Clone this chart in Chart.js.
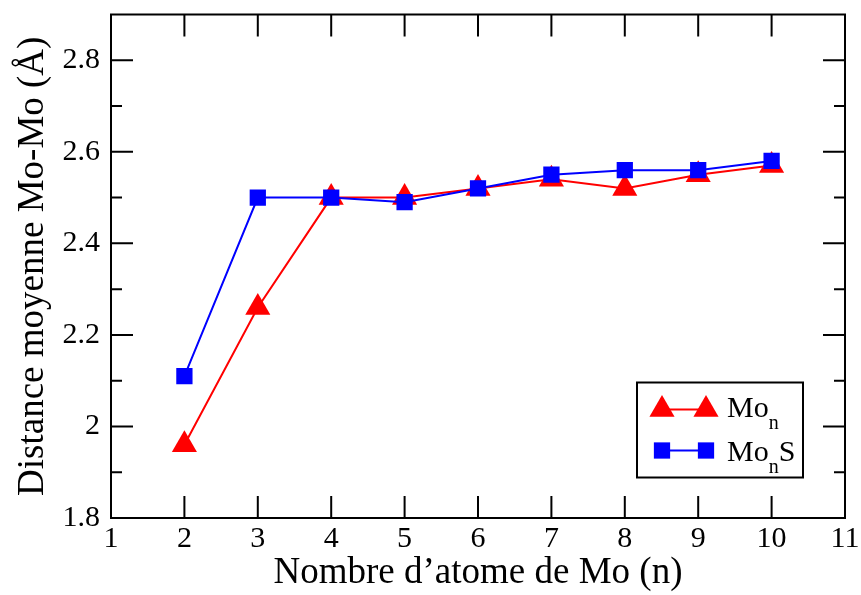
<!DOCTYPE html>
<html lang="fr">
<head>
  <meta charset="UTF-8">
  <title>Distance moyenne Mo-Mo</title>
  <style>
    html, body { margin: 0; padding: 0; background: #fff; }
    #wrap { width: 861px; height: 595px; }
  </style>
  <script src="https://cdn.jsdelivr.net/npm/chart.js"></script>
</head>
<body>
<div id="wrap"><canvas id="chart" width="861" height="595"></canvas></div>
<script>
// nombre d'atomes de Mo
const nAtoms = [2, 3, 4, 5, 6, 7, 8, 9, 10];
// distance moyenne Mo-Mo (Å)
const moN = [1.96, 2.26, 2.50, 2.50, 2.52, 2.54, 2.52, 2.55, 2.57];
const moNS = [2.11, 2.50, 2.50, 2.49, 2.52, 2.55, 2.56, 2.56, 2.58];
const xTicks = [1, 2, 3, 4, 5, 6, 7, 8, 9, 10, 11];
const yTicks = [1.8, 2, 2.2, 2.4, 2.6, 2.8];
const yMinor = [1.9, 2.1, 2.3, 2.5, 2.7];

const FONT = '"Liberation Serif", "DejaVu Serif", serif';

// cadre + graduations vers l'intérieur (style xmgrace)
const frameTicks = {
  id: 'frameTicks',
  afterDatasetsDraw(chart) {
    const { ctx, chartArea: a, scales: { x, y } } = chart;
    ctx.save();
    ctx.strokeStyle = '#000';
    ctx.lineWidth = 2;
    ctx.beginPath();
    xTicks.forEach(v => {
      const px = x.getPixelForValue(v);
      ctx.moveTo(px, a.bottom); ctx.lineTo(px, a.bottom - 22);
      ctx.moveTo(px, a.top); ctx.lineTo(px, a.top + 22);
    });
    yTicks.forEach(v => {
      const py = y.getPixelForValue(v);
      ctx.moveTo(a.left, py); ctx.lineTo(a.left + 22, py);
      ctx.moveTo(a.right, py); ctx.lineTo(a.right - 22, py);
    });
    yMinor.forEach(v => {
      const py = y.getPixelForValue(v);
      ctx.moveTo(a.left, py); ctx.lineTo(a.left + 11, py);
      ctx.moveTo(a.right, py); ctx.lineTo(a.right - 11, py);
    });
    ctx.stroke();
    ctx.strokeRect(a.left, a.top, a.right - a.left, a.bottom - a.top);
    ctx.restore();
  }
};

// légende avec indice
const subLegend = {
  id: 'subLegend',
  afterDraw(chart) {
    const { ctx, chartArea: a } = chart;
    const bx = a.left + 526, by = a.top + 368, bw = 166, bh = 95;
    ctx.save();
    ctx.strokeStyle = '#000';
    ctx.lineWidth = 2;
    ctx.strokeRect(bx, by, bw, bh);
    const rows = [
      { ds: chart.data.datasets[1], y: by + 27, base: 7, tail: '' },
      { ds: chart.data.datasets[0], y: by + 68, base: 10, tail: 'S' }
    ];
    rows.forEach(r => {
      const x1 = bx + 25, x2 = bx + 69;
      ctx.strokeStyle = r.ds.borderColor;
      ctx.lineWidth = 2;
      ctx.beginPath(); ctx.moveTo(x1, r.y); ctx.lineTo(x2, r.y); ctx.stroke();
      ctx.fillStyle = r.ds.pointBackgroundColor;
      [x1, x2].forEach(px => Chart.helpers.drawPoint(ctx, {
        pointStyle: r.ds.pointStyle, radius: r.ds.pointRadius, borderWidth: 0
      }, px, r.y));
      ctx.fillStyle = '#000';
      ctx.textBaseline = 'alphabetic';
      ctx.font = '30px ' + FONT;
      let tx = bx + 90;
      ctx.fillText('Mo', tx, r.y + r.base);
      tx += ctx.measureText('Mo').width;
      ctx.font = '20px ' + FONT;
      ctx.fillText('n', tx, r.y + r.base + 12);
      tx += ctx.measureText('n').width;
      ctx.font = '30px ' + FONT;
      ctx.fillText(r.tail, tx, r.y + r.base);
    });
    ctx.restore();
  }
};

new Chart(document.getElementById('chart'), {
  type: 'line',
  data: {
    datasets: [
      {
        label: 'MonS',
        data: nAtoms.map((n, i) => ({ x: n, y: moNS[i] })),
        borderColor: '#0000ff',
        backgroundColor: '#0000ff',
        pointBackgroundColor: '#0000ff',
        pointBorderWidth: 0,
        pointStyle: 'rect',
        pointRadius: 11.5,
        borderWidth: 2,
        order: 0
      },
      {
        label: 'Mon',
        data: nAtoms.map((n, i) => ({ x: n, y: moN[i] })),
        borderColor: '#ff0000',
        backgroundColor: '#ff0000',
        pointBackgroundColor: '#ff0000',
        pointBorderWidth: 0,
        pointStyle: 'triangle',
        pointRadius: 14.5,
        borderWidth: 2,
        order: 1
      }
    ]
  },
  options: {
    responsive: false,
    animation: false,
    layout: { padding: { top: 10, right: 16, left: 0, bottom: 0 } },
    plugins: { legend: { display: false }, tooltip: { enabled: false } },
    scales: {
      x: {
        type: 'linear',
        min: 1, max: 11,
        grid: { display: false, drawTicks: false },
        border: { display: false },
        afterBuildTicks: s => { s.ticks = xTicks.map(v => ({ value: v })); },
        afterFit: s => { s.height = 77; s.paddingLeft = 0; s.paddingRight = 0; },
        ticks: { color: '#000', padding: 3, maxRotation: 0, font: { family: FONT, size: 30 } },
        title: {
          display: true, text: 'Nombre d\u2019atome de Mo (n)', color: '#000',
          font: { family: FONT, size: 37 }, padding: { top: 0, bottom: 0 }
        }
      },
      y: {
        min: 1.8, max: 2.9,
        grid: { display: false, drawTicks: false },
        border: { display: false },
        afterBuildTicks: s => { s.ticks = yTicks.map(v => ({ value: v })); },
        afterFit: s => { s.width = 111; s.paddingTop = 0; s.paddingBottom = 0; },
        ticks: {
          color: '#000', padding: 11, font: { family: FONT, size: 30 },
          callback: v => String(Math.round(v * 10) / 10)
        },
        title: {
          display: true, text: 'Distance moyenne Mo-Mo (\u00c5)', color: '#000',
          font: { family: FONT, size: 37 }, padding: { top: 11, bottom: 0 }
        }
      }
    }
  },
  plugins: [frameTicks, subLegend]
});
</script>
</body>
</html>
